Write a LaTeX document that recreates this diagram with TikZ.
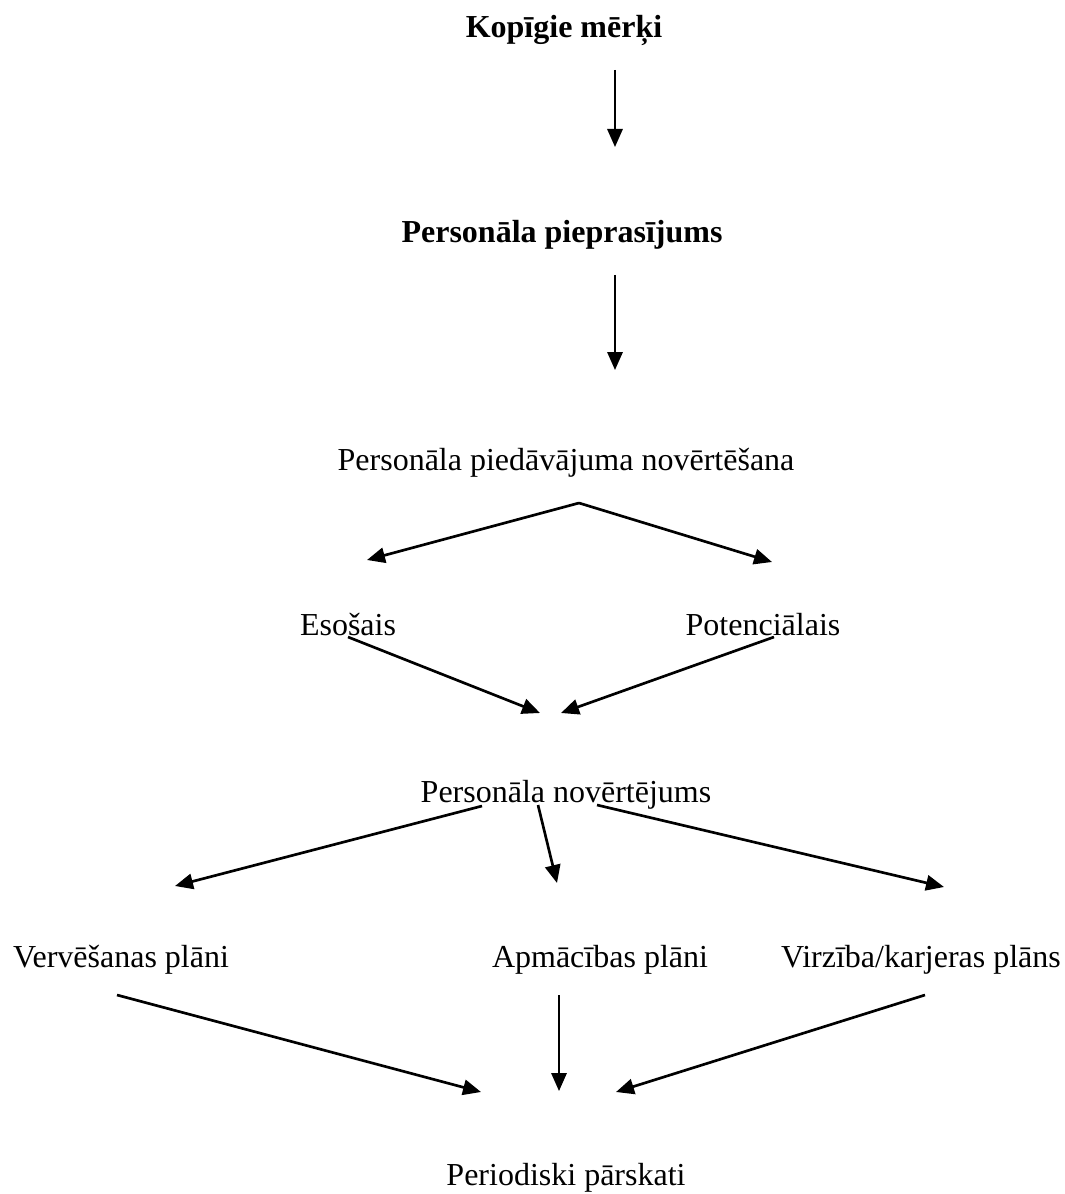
\documentclass[tikz,border=0pt]{standalone}
\usepackage{fontspec}
\setmainfont{Liberation Serif}
\usetikzlibrary{arrows.meta}
\begin{document}
\begin{tikzpicture}[x=0.75pt,y=-0.75pt,
  lbl/.style={anchor=base,inner sep=0pt,font=\fontsize{24}{28}\selectfont},
  blbl/.style={anchor=base,inner sep=0pt,font=\fontsize{24}{28}\selectfont\bfseries},
  arr/.style={line width=2pt,-{Triangle[length=13.5pt,width=11.5pt]}},
  varr/.style={line width=1.6pt,-{Triangle[length=13.5pt,width=11.5pt]}}]
\useasboundingbox (0,0) rectangle (1064,1194);
% labels
\node[blbl] (kopigie) at (564,38) {Kopīgie mērķi};
\node[blbl] (piepras) at (562,243) {Personāla pieprasījums};
\node[lbl] (piedav) at (566,470) {Personāla piedāvājuma novērtēšana};
\node[lbl] (esosais) at (348,635) {Esošais};
\node[lbl] (potenc) at (763,635) {Potenciālais};
\node[lbl] (novert) at (566,802) {Personāla novērtējums};
\node[lbl] (vervesanas) at (121,967) {Vervēšanas plāni};
\node[lbl] (apmacibas) at (600,967) {Apmācības plāni};
\node[lbl] (virziba) at (921,967) {Virzība/karjeras plāns};
\node[lbl] (periodiski) at (566,1185) {Periodiski pārskati};
% connector end points
\coordinate (k1) at (615,70);   \coordinate (p1) at (615,147);
\coordinate (k2) at (615,275);  \coordinate (p2) at (615,370);
\coordinate (fork) at (579,503);
\coordinate (esT) at (367,560); \coordinate (poT) at (772,562);
\coordinate (esS) at (348,637); \coordinate (esE) at (540,713);
\coordinate (poS) at (774,637); \coordinate (poE) at (561,713);
\coordinate (nL) at (482,806);  \coordinate (vT) at (175,886);
\coordinate (nM) at (538,805);  \coordinate (aT) at (557,883);
\coordinate (nR) at (597,805);  \coordinate (zT) at (944,887);
\coordinate (vS) at (117,995);  \coordinate (vE) at (481,1092);
\coordinate (aS) at (559,995);  \coordinate (aE) at (559,1091);
\coordinate (zS) at (925,995);  \coordinate (zE) at (616,1092);
% connectors
\draw[varr] (k1) -- (p1);
\draw[varr] (k2) -- (p2);
\draw[arr] (fork) -- (esT);
\draw[arr] (fork) -- (poT);
\draw[arr] (esS) -- (esE);
\draw[arr] (poS) -- (poE);
\draw[arr] (nL) -- (vT);
\draw[arr] (nM) -- (aT);
\draw[arr] (nR) -- (zT);
\draw[arr] (vS) -- (vE);
\draw[varr] (aS) -- (aE);
\draw[arr] (zS) -- (zE);
\end{tikzpicture}
\end{document}
